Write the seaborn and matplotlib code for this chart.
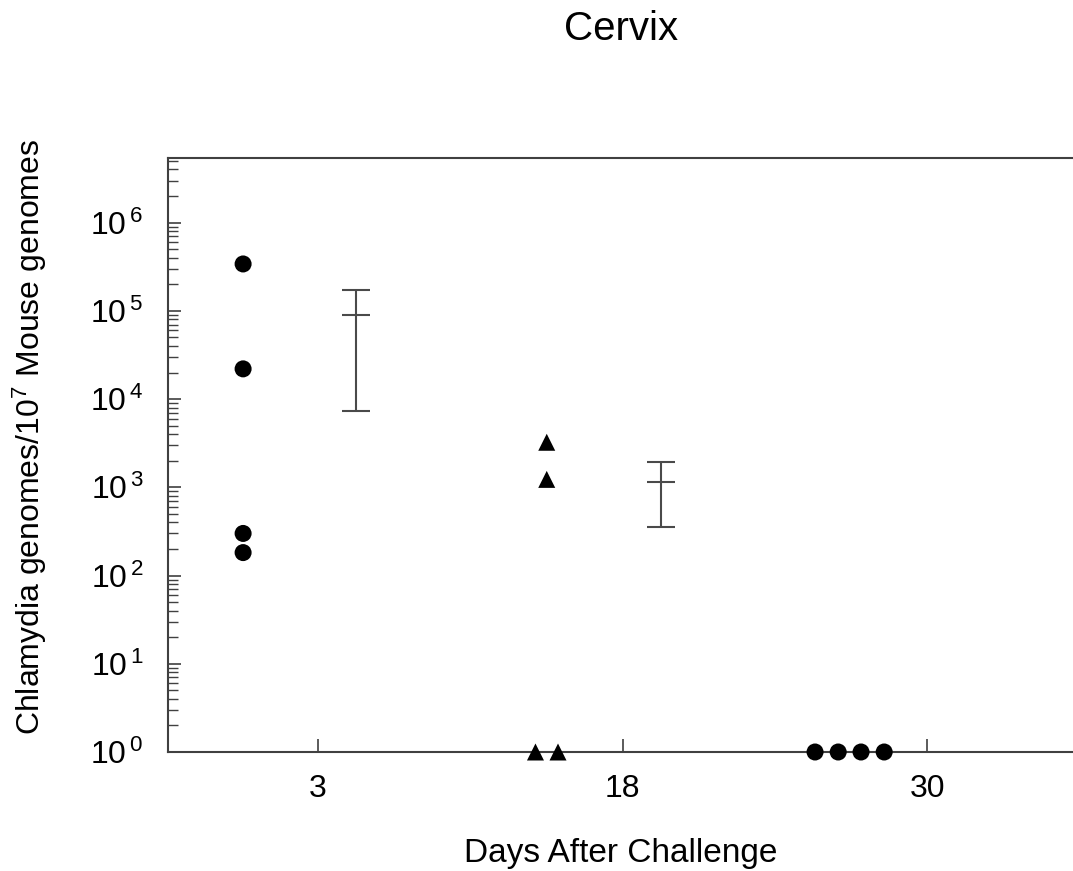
import numpy as np
import pandas as pd
import matplotlib
matplotlib.use("Agg")
import matplotlib.pyplot as plt
import seaborn as sns
from matplotlib.ticker import LogLocator, NullFormatter

# ---- data ----
days = ["3", "18", "30"]
day3_values = [3.4e5, 2.2e4, 300, 182]
day18_values = [3240, 1230, 1, 1]
day30_values = [1, 1, 1, 1]
# horizontal spread of individual animals within a day group
day3_offsets = [-0.246, -0.246, -0.246, -0.246]
day18_offsets = [-0.249, -0.249, -0.286, -0.212]
day30_offsets = [-0.368, -0.292, -0.217, -0.141]
group_markers = ["o", "^", "o"]
# mean +/- error for days 3 and 18
err_days = ["3", "18"]
err_means = [8.9e4, 1160]
err_upper = [1.73e5, 1940]
err_lower = [7.4e3, 355]
err_offset = 0.125

sns.set_theme(style="white")
plt.rcParams["font.family"] = ["Liberation Sans", "DejaVu Sans"]
plt.rcParams["mathtext.fontset"] = "custom"
plt.rcParams["mathtext.rm"] = "Liberation Sans"
plt.rcParams["mathtext.it"] = "Liberation Sans"
plt.rcParams["text.color"] = "black"
plt.rcParams["axes.labelcolor"] = "black"
plt.rcParams["xtick.labelcolor"] = "black"
plt.rcParams["ytick.labelcolor"] = "black"

rows = []
for d, vals, offs in zip(days, [day3_values, day18_values, day30_values],
                         [day3_offsets, day18_offsets, day30_offsets]):
    for v, o in zip(vals, offs):
        rows.append({"day": d, "value": v, "x": days.index(d) + o})
df = pd.DataFrame(rows)

fig = plt.figure(figsize=(10.73, 8.71), dpi=100)
ax = fig.add_axes([168 / 1073, (871 - 752) / 871, 1 - 168 / 1073, (752 - 158) / 871])

sns.scatterplot(data=df, x="x", y="value", style="day", markers=dict(zip(days, group_markers)),
                color="black", s=150, edgecolor="black", linewidth=0, legend=False,
                ax=ax, clip_on=False, zorder=5)

line_c = "#4a4a4a"
ex = [days.index(d) + err_offset for d in err_days]
means = np.array(err_means)
yerr = np.vstack([means - np.array(err_lower), np.array(err_upper) - means])
ax.errorbar(ex, means, yerr=yerr, fmt="none", ecolor=line_c, elinewidth=1.5,
            capsize=9.8, capthick=1.5, zorder=3)
ax.scatter(ex, means, marker="_", s=19.5 ** 2, color=line_c, linewidths=1.5, zorder=3)

ax.set_yscale("log")
ax.set_ylim(1, 5.4e6)
ax.set_xlim(-0.4926, 2.479)
ax.set_xticks(range(len(days)))
ax.set_xticklabels(days)
ax.yaxis.set_minor_locator(LogLocator(base=10, subs=np.arange(2, 10), numticks=100))
ax.yaxis.set_minor_formatter(NullFormatter())
ax.set_yticks([1, 10, 100, 1e3, 1e4, 1e5, 1e6])
ax.set_yticklabels([r"$\mathdefault{10^{\,%d}}$" % i for i in range(7)])

spine_c = "#404040"
for s in ["left", "bottom", "top"]:
    ax.spines[s].set_color(spine_c)
    ax.spines[s].set_linewidth(1.5)
ax.spines["right"].set_visible(False)

ax.tick_params(axis="y", which="major", direction="in", length=9.5, width=1.2, color=spine_c,
               labelsize=23, pad=18, left=True)
ax.tick_params(axis="y", which="minor", direction="in", length=7, width=1.0, color=spine_c, left=True)
ax.tick_params(axis="x", which="major", direction="in", length=9.5, width=1.2, color=spine_c,
               labelsize=23, pad=16, bottom=True)

ax.set_xlabel("Days After Challenge", fontsize=24)
ax.xaxis.set_label_coords(0.5, -(853 - 752) / 594)
ax.xaxis.label.set_va("center")
ax.set_ylabel("Chlamydia genomes/10$^{7}$ Mouse genomes", fontsize=23)
ax.yaxis.set_label_coords(-(168 - 49) / 905, 0.53)
fig.text(621 / 1073, 1 - 40 / 871, "Cervix", fontsize=29, ha="center", va="baseline")

fig.savefig("out.png", dpi=100)
